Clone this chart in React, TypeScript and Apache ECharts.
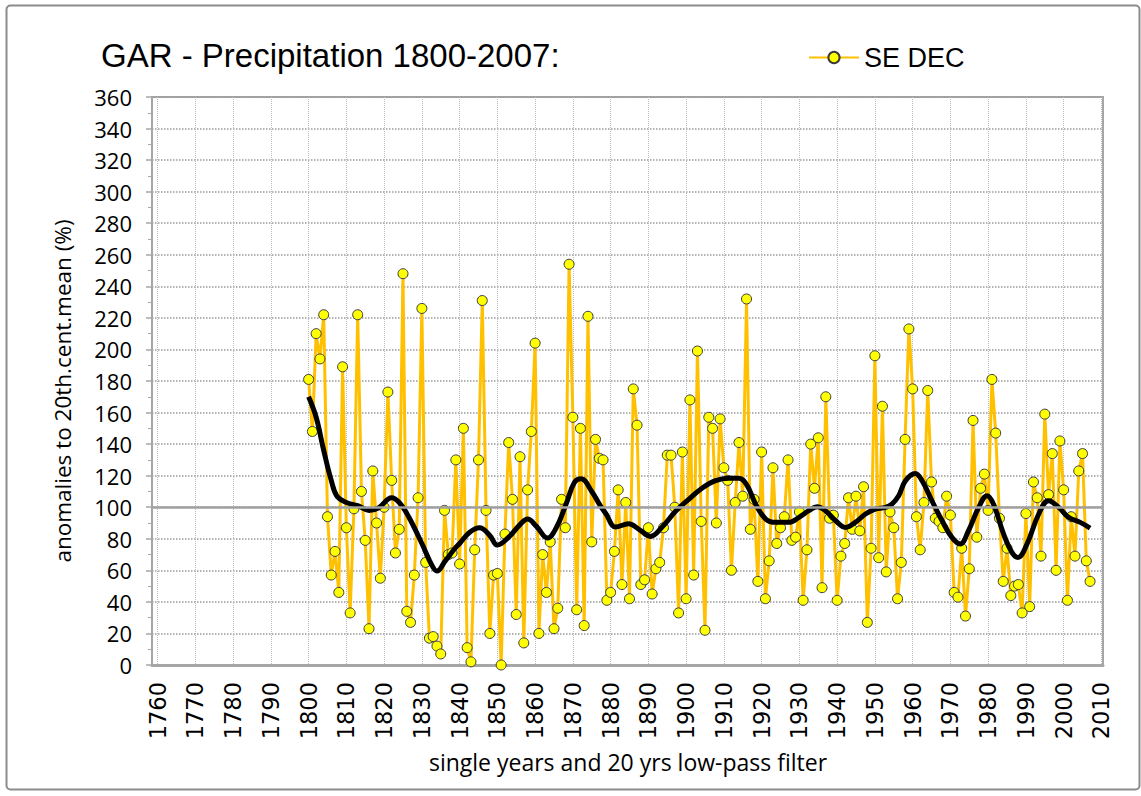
import React, { useEffect, useRef } from "react";
import * as echarts from "echarts";

const startYear = 1800;
// SE DEC single-year anomalies (% of 20th-century mean), 1800..2007
const seDec: number[] = [
  181, 148, 210, 194, 222, 94, 57, 72, 46, 189,
  87, 33, 99, 222, 110, 79, 23, 123, 90, 55,
  100, 173, 117, 71, 86, 248, 34, 27, 57, 106,
  226, 65, 17, 18, 12, 7, 98, 70, 71, 130,
  64, 150, 11, 2, 73, 130, 231, 98, 20, 57,
  58, 0, 83, 141, 105, 32, 132, 14, 111, 148,
  204, 20, 70, 46, 78, 23, 36, 105, 87, 254,
  157, 35, 150, 25, 221, 78, 143, 131, 130, 41,
  46, 72, 111, 51, 103, 42, 175, 152, 51, 54,
  87, 45, 61, 65, 87, 133, 133, 100, 33, 135,
  42, 168, 57, 199, 91, 22, 157, 150, 90, 156,
  125, 117, 60, 103, 141, 107, 232, 86, 105, 53,
  135, 42, 66, 125, 77, 87, 94, 130, 79, 81,
  97, 41, 73, 140, 112, 144, 49, 170, 93, 95,
  41, 69, 77, 106, 86, 107, 85, 113, 27, 74,
  196, 68, 164, 59, 97, 87, 42, 65, 143, 213,
  175, 94, 73, 103, 174, 116, 93, 91, 87, 107,
  95, 46, 43, 74, 31, 61, 155, 81, 112, 121,
  98, 181, 147, 93, 53, 74, 44, 50, 51, 33,
  96, 37, 116, 106, 69, 159, 108, 134, 60, 142,
  111, 41, 94, 69, 123, 134, 66, 53,
];

// 20-yr low-pass filter, read at points along the curve
const filterYears: number[] = [
  1800, 1802, 1804, 1806, 1807.5, 1810, 1813, 1816, 1818.5, 1822,
  1824, 1826.5, 1830, 1832.7, 1834, 1836.2, 1838.8, 1840, 1842.6, 1845.3,
  1848, 1850, 1853, 1856, 1858, 1860.3, 1863.3, 1865.6, 1868.2, 1870.4,
  1872.2, 1875, 1877, 1878.8, 1881.3, 1884.8, 1887.5, 1890.5, 1893.7, 1897.2,
  1900.7, 1904.2, 1907.8, 1911.3, 1914, 1916.1, 1918.4, 1921.1, 1923.7, 1927.2,
  1929.9, 1932.5, 1934.7, 1936.9, 1939.6, 1942.2, 1944.8, 1947.5, 1950.1, 1952.8,
  1954.5, 1956.3, 1958.1, 1960.7, 1962.5, 1965.1, 1967.8, 1970.4, 1972.6, 1974.8,
  1977.5, 1979.7, 1981.4, 1984.1, 1986.3, 1987.9, 1990.3, 1993.4, 1996, 1998.7,
  2001.3, 2004.4, 2007,
];
const filterValues: number[] = [
  170, 157, 136, 117, 107, 103, 101, 98, 99.5, 106,
  103, 94, 77, 63, 59.5, 66, 74, 77, 84, 87,
  82, 76, 81, 89, 92.5, 88, 80.5, 87, 102, 115.7,
  118, 110, 102, 95.7, 87.5, 89.5, 86, 81.5, 87.6, 97.4,
  105, 112, 116.8, 118.3, 118.3, 114, 102, 92.5, 90.4, 90.4,
  93.6, 97.8, 100.3, 97.8, 91.4, 87.2, 90.4, 95.7, 98.8, 99.9,
  102, 107.3, 116.8, 121.4, 116.8, 104.1, 91.4, 80.9, 76.7, 85.1,
  99.9, 107.3, 102, 83, 71.4, 68.2, 76.7, 95.7, 104.1, 99.9,
  93.6, 90.4, 86.8,
];

const xMin = 1760;
const xMax = 2010;
const yMin = 0;
const yMax = 360;
const referenceLevel = 100;

const titleText = "GAR - Precipitation 1800-2007:";
const seriesName = "SE DEC";
const yAxisName = "anomalies to 20th.cent.mean (%)";
const xAxisName = "single years and 20 yrs low-pass filter";

const NARROW = "'Liberation Sans Narrow', 'Liberation Sans', sans-serif";
const SANS = "'Open Sans', 'Liberation Sans', sans-serif";

export default function App() {
  const ref = useRef<HTMLDivElement>(null);
  useEffect(() => {
    if (!ref.current) return;
    const chart = echarts.init(ref.current, null, { renderer: "svg" });
    const option: any = {
      animation: false,
      backgroundColor: "#ffffff",
      title: {
        text: titleText,
        left: 96,
        top: 34,
        textStyle: { fontFamily: NARROW, fontSize: 33, fontWeight: "normal", color: "#000" },
      },
      legend: {
        data: [seriesName],
        left: 803,
        top: 39,
        itemWidth: 50,
        itemHeight: 14,
        itemGap: 8,
        textStyle: { fontFamily: NARROW, fontSize: 27, color: "#000" },
      },
      grid: [
        { left: 152, top: 97, width: 951, height: 568, show: true, borderColor: "#a6a6a6", borderWidth: 2, backgroundColor: "#fff" },
        { left: 157.6, top: 97, width: 943.8, height: 568 },
      ],
      xAxis: [
        {
          gridIndex: 0, type: "value", min: 0, max: 1,
          axisLine: { show: true, onZero: false, lineStyle: { color: "#a6a6a6", width: 3 } },
          axisTick: { show: false }, axisLabel: { show: false }, splitLine: { show: false },
        },
        {
          gridIndex: 1, type: "value", min: xMin, max: xMax, interval: 10,
          axisLine: { show: false },
          axisTick: { show: false },
          axisLabel: {
            rotate: 90, margin: 17, fontFamily: "'DejaVu Sans', sans-serif", fontSize: 22.5, color: "#000",
            formatter: (v: number) => String(v),
          },
          splitLine: { show: true, lineStyle: { color: "#bdbdbd", type: "dotted", width: 1 } },
        },
      ],
      yAxis: [
        {
          gridIndex: 0, type: "value", min: yMin, max: yMax, interval: 20,
          axisLine: { show: true, lineStyle: { color: "#a6a6a6", width: 2 } },
          axisTick: { show: true, length: 6, lineStyle: { color: "#a6a6a6", width: 1.5 } },
          minorTick: { show: true, splitNumber: 2, length: 4, lineStyle: { color: "#a6a6a6" } },
          axisLabel: { margin: 20, fontFamily: SANS, fontSize: 22, color: "#000" },
          splitLine: { show: true, lineStyle: { color: "#9a9a9a", type: "dotted", width: 1.5 } },
        },
        { gridIndex: 1, type: "value", min: yMin, max: yMax, show: false },
      ],
      series: [
        {
          name: "ref", type: "line", xAxisIndex: 0, yAxisIndex: 0, data: [], z: 1, silent: true,
          markLine: {
            silent: true, symbol: "none", label: { show: false },
            lineStyle: { color: "#a0a0a0", width: 2.5, type: "solid" },
            data: [{ yAxis: referenceLevel }],
          },
        },
        {
          name: seriesName, type: "line", xAxisIndex: 1, yAxisIndex: 1, z: 3,
          data: seDec.map((v, i) => [startYear + i, v]),
          symbol: "circle", symbolSize: 10, showSymbol: true,
          lineStyle: { color: "#FFC000", width: 3 },
          itemStyle: { color: "#FFFF00", borderColor: "#3a3a3a", borderWidth: 1 },
        },
        {
          name: "filter", type: "line", xAxisIndex: 1, yAxisIndex: 1, z: 4,
          data: filterYears.map((y, i) => [y, filterValues[i]]),
          smooth: 0.4, symbol: "none", showSymbol: false,
          lineStyle: { color: "#000", width: 5 },
        },
      ],
      graphic: [
        {
          type: "rect", left: 4, top: 3, silent: true,
          shape: { width: 1133, height: 784, r: 4 },
          style: { fill: "none", stroke: "#8c8c8c", lineWidth: 2 },
        },
        {
          type: "text", x: 62, y: 391, rotation: Math.PI / 2, silent: true,
          style: { text: yAxisName, fontFamily: SANS, fontSize: 22.5, fill: "#000", align: "center", verticalAlign: "middle" },
        },
        {
          type: "text", x: 628, y: 762, silent: true,
          style: { text: xAxisName, fontFamily: SANS, fontSize: 23, fill: "#000", align: "center", verticalAlign: "middle" },
        },
      ],
    };
    chart.setOption(option);
    return () => chart.dispose();
  }, []);
  return <div ref={ref} style={{ position: "fixed", left: 0, top: 0, width: 1141, height: 796 }} />;
}
